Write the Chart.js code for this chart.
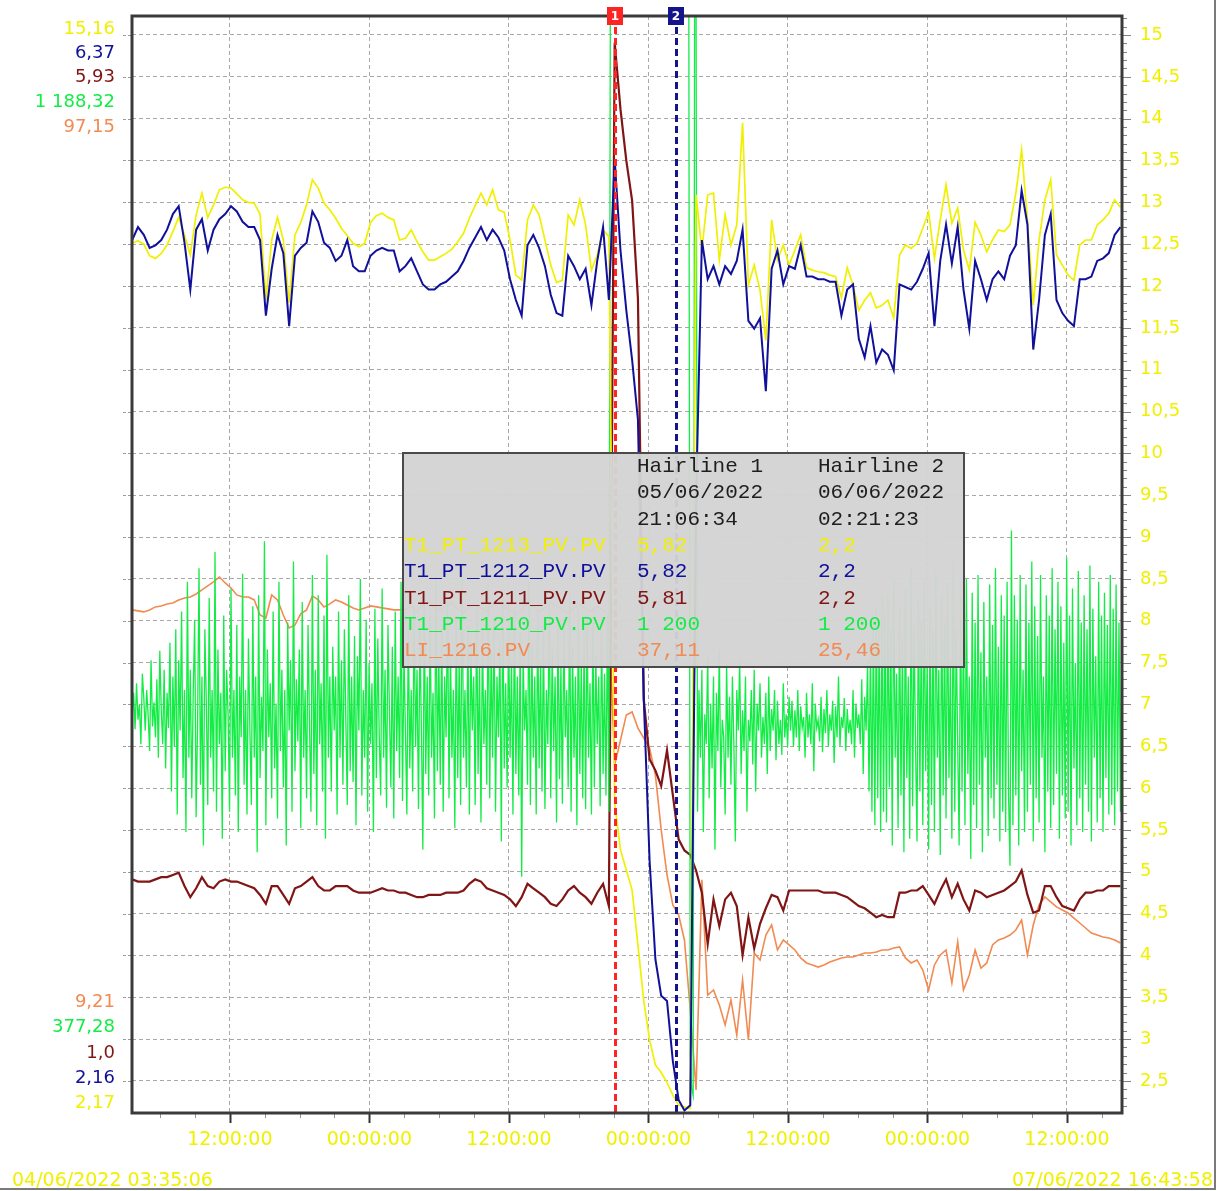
<!DOCTYPE html>
<html>
<head>
<meta charset="utf-8">
<title>Trend T1_PT</title>
<script src="https://cdn.jsdelivr.net/npm/chart.js@4.4.1/dist/chart.umd.min.js"></script>
<style>
  html, body { margin: 0; padding: 0; background: #fff; overflow: hidden; }
  #wrap { position: relative; width: 1224px; height: 1191px; }
  #frame { position: absolute; left: 0; top: 0; width: 1214px; height: 1188px;
           border-right: 2px solid #7a7a7a; border-bottom: 2px solid #7a7a7a; }
  #trend { position: absolute; left: 0; top: 0; }
  .lbl { position: absolute; font-family: 'DejaVu Sans', sans-serif; font-size: 18px; line-height: 20px; white-space: nowrap; }
  #box { position: absolute; left: 402px; top: 452px; width: 559px; height: 212px;
         background: rgba(211, 211, 211, 0.96); border: 2px solid #4a4a4a;
         font-family: 'Liberation Mono', 'Courier New', monospace; font-size: 21px; line-height: 26.3px; }
  #box div { position: absolute; white-space: pre; }
</style>
</head>
<body>
<div id="wrap">
  <div id="frame"></div>
  <canvas id="trend" width="1214" height="1189"></canvas>
  <div id="labels"></div>
  <div id="box"></div>
</div>
<script>
// tendance sur 3 jours, 5 mesures, une echelle par mesure

const seriesNames = ['T1_PT_1213_PV.PV', 'T1_PT_1212_PV.PV', 'T1_PT_1211_PV.PV', 'T1_PT_1210_PV.PV', 'LI_1216.PV'];
const seriesColors = ['#f0f000', '#10109a', '#801515', '#14ec46', '#f28a52'];
const scaleMax = [15.16, 6.37, 5.93, 1188.32, 97.15];
const scaleMin = [2.17, 2.16, 1.0, 377.28, 9.21];
const hair1Values = [5.82, 5.82, 5.81, 1200, 37.11];
const hair2Values = [2.2, 2.2, 2.2, 1200, 25.46];

// temps en heures depuis le 04/06/2022 00:00:00
const startHours = 3.585;   // 04/06/2022 03:35:06
const endHours = 88.733;    // 07/06/2022 16:43:58
const hairline1Hours = 45.109; // 05/06/2022 21:06:34
const hairline2Hours = 50.356; // 06/06/2022 02:21:23
const firstSample = 3.6;
const stepSmooth = 0.5;
const stepGreen = 0.125;

const timeTicks = [12, 24, 36, 48, 60, 72, 84];
const rightTicks = [2.5, 3, 3.5, 4, 4.5, 5, 5.5, 6, 6.5, 7, 7.5, 8, 8.5, 9, 9.5, 10, 10.5, 11, 11.5, 12, 12.5, 13, 13.5, 14, 14.5, 15];

const t1213 = [
  12.51,12.54,12.50,12.36,12.33,12.39,12.49,12.65,12.82,12.61,
  12.37,12.85,13.11,12.82,12.97,13.15,13.18,13.17,13.10,13.03,
  13.00,12.99,12.86,11.83,12.55,12.82,12.55,11.80,12.61,12.76,
  12.97,13.27,13.17,12.99,12.91,12.81,12.69,12.60,12.51,12.47,
  12.51,12.76,12.84,12.87,12.82,12.79,12.55,12.57,12.67,12.53,
  12.41,12.31,12.31,12.35,12.39,12.44,12.53,12.63,12.81,12.96,
  13.11,12.97,13.15,12.91,12.88,12.55,12.13,12.07,12.79,12.97,
  12.85,12.55,12.25,12.04,12.07,12.85,12.73,13.03,12.73,12.19,
  12.37,12.67,12.59,5.82,5.26,5.02,4.78,4.12,3.46,2.99,
  2.69,2.60,2.48,2.33,2.21,2.19,2.17,13.09,12.43,13.09,
  13.11,12.31,12.85,12.49,12.73,13.95,12.01,12.25,11.95,11.35,
  12.79,12.31,12.49,12.25,12.43,12.61,12.22,12.19,12.17,12.16,
  12.13,12.11,11.86,12.22,12.01,11.71,11.83,11.92,11.74,11.77,
  11.83,11.62,12.37,12.49,12.45,12.51,12.69,12.88,12.33,12.79,
  13.21,12.75,12.93,12.43,12.19,12.76,12.61,12.41,12.55,12.67,
  12.65,12.73,13.11,13.63,12.79,11.77,12.55,13.03,13.27,12.37,
  12.25,12.13,12.07,12.49,12.55,12.55,12.73,12.79,12.87,13.03,12.94
];

const t1212 = [
  5.51,5.56,5.53,5.48,5.49,5.51,5.55,5.61,5.64,5.50,
  5.32,5.55,5.59,5.47,5.55,5.59,5.61,5.64,5.62,5.58,
  5.56,5.56,5.51,5.22,5.40,5.53,5.46,5.18,5.45,5.48,
  5.50,5.62,5.58,5.50,5.48,5.43,5.45,5.51,5.41,5.39,
  5.39,5.45,5.47,5.48,5.47,5.47,5.39,5.41,5.44,5.39,
  5.34,5.32,5.32,5.34,5.35,5.37,5.39,5.43,5.48,5.52,
  5.56,5.51,5.55,5.52,5.47,5.36,5.28,5.22,5.49,5.53,
  5.48,5.41,5.30,5.23,5.22,5.45,5.41,5.36,5.40,5.26,
  5.43,5.56,5.28,5.82,5.47,5.24,5.05,4.82,3.75,3.13,
  2.75,2.61,2.59,2.36,2.21,2.17,2.19,4.51,5.51,5.36,
  5.41,5.34,5.41,5.38,5.43,5.55,5.20,5.17,5.21,4.93,
  5.40,5.47,5.34,5.41,5.40,5.49,5.37,5.37,5.36,5.36,
  5.35,5.35,5.22,5.32,5.34,5.13,5.06,5.18,5.04,5.09,
  5.07,5.01,5.34,5.33,5.32,5.35,5.40,5.46,5.18,5.43,
  5.57,5.42,5.56,5.32,5.17,5.43,5.36,5.28,5.36,5.39,
  5.36,5.45,5.49,5.70,5.57,5.09,5.28,5.53,5.61,5.28,
  5.23,5.20,5.18,5.36,5.36,5.37,5.43,5.44,5.46,5.53,5.56
];

const t1211 = [
  2.05,2.04,2.04,2.04,2.05,2.06,2.06,2.07,2.08,2.02,
  1.97,2.01,2.06,2.02,2.01,2.04,2.05,2.04,2.04,2.03,
  2.02,2.01,1.98,1.94,2.02,2.02,1.98,1.94,2.01,2.02,
  2.04,2.06,2.02,2.00,2.00,2.02,2.02,2.02,2.00,1.99,
  1.99,1.99,2.00,2.01,2.00,2.00,1.99,1.99,1.98,1.97,
  1.97,1.98,1.98,1.98,1.99,1.99,1.99,2.00,2.03,2.05,
  2.04,2.01,2.00,1.99,1.98,1.96,1.93,1.97,2.03,2.01,
  1.99,1.97,1.94,1.93,1.96,2.00,2.02,1.99,1.97,1.94,
  1.99,2.03,1.93,5.81,5.51,5.28,5.10,4.66,2.86,2.59,
  2.54,2.47,2.63,2.43,2.23,2.18,2.16,2.09,1.99,1.76,
  1.96,1.84,1.96,1.99,1.93,1.71,1.88,1.74,1.85,1.92,
  1.98,1.97,1.91,2.00,2.00,2.00,2.00,2.00,2.00,1.99,
  1.99,1.99,1.98,1.97,1.95,1.93,1.92,1.90,1.88,1.89,
  1.88,1.88,1.99,1.99,2.00,2.00,2.02,1.98,1.94,2.00,
  2.05,1.97,2.03,1.96,1.91,2.00,1.99,1.97,1.98,1.99,
  2.00,2.02,2.04,2.09,1.98,1.90,1.91,2.02,2.02,1.97,
  1.93,1.92,1.91,1.96,1.99,1.99,2.00,2.00,2.02,2.02,2.02
];

const li1216 = [
  49.54,49.46,49.38,49.54,49.78,49.86,50.02,50.10,50.34,50.50,
  50.58,50.82,51.14,51.46,51.78,52.18,51.70,51.30,50.74,50.58,
  50.58,50.34,49.13,48.89,50.74,50.34,49.13,48.09,48.33,49.22,
  49.54,50.66,50.34,49.78,50.02,50.34,50.18,49.94,49.70,49.54,
  49.70,49.86,49.78,49.70,49.62,49.54,49.54,
  49.6,49.8,49.4,49.9,50.2,49.7,49.5,49.9,50.1,49.6,
  49.3,49.8,50.0,49.7,49.4,49.9,50.3,49.8,49.5,49.2,
  49.6,50.0,49.8,49.4,49.7,50.1,49.9,49.5,49.3,49.7,
  50.0,49.6,49.4,49.8,49.5,49.2,
  37.11,39.11,41.12,41.36,40.07,39.27,38.47,
  36.31,31.90,28.29,25.89,25.08,23.08,17.47,11.05,27.90,18.67,
  19.07,17.87,16.27,18.27,15.46,19.87,15.06,22.04,21.48,23.48,
  24.28,22.28,23.08,22.68,22.28,21.64,21.24,21.08,20.91,21.08,
  21.32,21.48,21.64,21.72,21.72,21.88,22.04,22.04,22.12,22.28,
  22.28,22.44,22.52,21.64,21.24,21.48,20.67,19.07,21.08,21.88,
  22.28,19.63,22.92,19.07,20.27,22.28,20.83,21.24,22.68,23.08,
  23.24,23.48,23.88,24.68,21.88,24.28,25.89,26.53,26.13,25.73,
  25.48,25.24,24.84,24.44,24.04,23.64,23.48,23.32,23.24,23.08,22.84
];

const t1210 = [
  // 04/06 matin, bande etroite
  672,688,661,695,668,679,650,702,684,660,
  690,671,645,712,663,681,655,698,640,719,
  676,650,705,632,688,662,725,615,700,648,
  735,
  // 04/06 jour
  598,712,660,748,625,690,585,770,640,705,
  610,688,742,596,665,780,620,700,575,735,
  682,605,758,640,690,615,792,600,720,650,
  688,580,745,630,705,672,600,765,640,690,
  612,738,585,700,655,776,620,690,598,728,
  660,605,752,640,700,570,760,625,685,645,
  800,590,720,655,695,610,748,632,680,595,
  770,645,705,618,690,575,740,660,712,600,
  785,630,698,652,720,588,755,640,690,610,
  738,665,600,775,628,705,590,760,650,695,
  615,745,580,790,640,700,
  // 05/06
  615,722,660,700,598,748,640,712,620,735,
  668,605,760,630,700,622,730,590,715,660,
  772,612,690,640,742,600,710,650,695,585,
  750,625,728,655,612,765,640,705,603,738,
  675,618,722,595,748,645,700,625,770,608,
  718,660,598,740,632,690,615,752,648,705,
  602,735,660,572,755,628,700,612,745,640,
  688,595,775,630,715,620,738,600,700,655,
  758,610,722,640,690,588,745,625,712,605,
  782,640,690,618,738,598,725,660,700,605,
  752,628,708,592,735,650,690,620,768,610,
  720,640,745,600,700,655,728,578,758,632,
  695,618,740,640,710,598,750,628,700,612,
  732,552,718,660,690,620,770,605,725,640,
  700,598,748,632,712,615,738,602,690,650,
  755,610,722,645,700,592,745,624,708,606,
  735,655,690,618,762,600,722,640,700,590,
  750,628,710,610,735,602,745,640,695,598,
  740,618,715,650,700,604,735,628,702,612,
  745,600,
  // saturation entre les hairlines
  1200,1200,1200,1200,1200,1200,1200,1200,1200,1200,
  1200,1200,1200,1200,1200,1200,1200,1200,1200,1200,
  1200,1200,1200,1200,1200,1200,1200,1200,1200,1200,
  1200,1200,1200,1200,1200,1200,1200,1200,1200,1200,
  1200,1200,1200,1200,1200,1200,1200,1200,1200,1200,
  1200,1200,1200,1200,1200,
  420,395,390,1200,1200,
  // 06/06 reprise
  600,690,640,705,585,672,650,715,610,680,
  632,700,572,688,645,720,618,668,655,598,
  710,640,685,620,700,650,578,690,660,712,
  628,675,645,700,600,668,652,690,635,705,
  615,680,660,695,640,670,650,688,628,700,
  645,676,660,690,638,682,650,668,642,695,
  655,672,648,685,
  // 06/06 calme
  660,682,648,675,655,690,645,678,662,670,
  640,688,655,672,650,695,630,680,662,668,
  652,685,644,676,658,690,648,672,660,682,
  636,678,655,700,648,670,662,684,645,676,
  658,668,650,690,640,680,662,672,650,698,
  628,685,660,710,615,725,600,740,590,752,
  610,735,585,762,600,748,
  // 06/06 soir
  592,760,618,735,575,772,640,702,588,750,
  612,728,570,765,625,700,580,780,604,738,
  650,578,758,615,742,590,770,630,710,572,
  752,605,735,585,778,640,705,568,760,612,
  740,595,768,625,712,580,785,600,735,650,
  575,758,615,745,590,772,628,700,565,762,
  605,740,588,775,620,718,570,755,640,700,
  582,768,610,738,595,780,620,722,578,760,
  600,745,585,770,612,
  // 07/06
  560,808,590,760,612,742,575,775,630,705,
  585,768,600,740,620,785,578,752,610,730,
  592,775,640,700,570,760,615,745,588,780,
  605,735,628,770,580,752,612,725,595,788,
  600,745,575,765,632,710,590,778,610,740,
  585,760,620,735,600,782,578,750,640,715,
  592,770,610,745,585,762,625,738,598,775,
  605,750,590,768,615,740,600,758
];

function points(values, step) {
  return values.map((v, i) => ({ x: firstSample + i * step, y: v }));
}

function frNumber(n) {
  let s = (n % 1 === 0 && n < 100) ? n.toFixed(1) : String(n);
  const parts = s.split('.');
  parts[0] = parts[0].replace(/\B(?=(\d{3})+(?!\d))/g, ' ');
  return parts.join(',');
}

function pad(n) { return String(n).padStart(2, '0'); }

const hairlines = [
  { hours: hairline1Hours, color: '#ff2424', label: '1' },
  { hours: hairline2Hours, color: '#14148c', label: '2' }
];

const decor = {
  id: 'decor',
  afterDatasetsDraw(chart) {
    const { ctx, chartArea: a, scales } = chart;
    const xs = scales.x, ys = scales.y;
    ctx.save();

    // hairlines
    hairlines.forEach(h => {
      const px = Math.round(xs.getPixelForValue(h.hours)) + 0.5;
      ctx.strokeStyle = h.color;
      ctx.lineWidth = 3;
      ctx.setLineDash([7, 4]);
      ctx.beginPath();
      ctx.moveTo(px, a.top);
      ctx.lineTo(px, a.bottom);
      ctx.stroke();
    });
    ctx.setLineDash([]);

    // petits traits de gauche
    ctx.strokeStyle = '#9a9a9a';
    ctx.lineWidth = 1;
    ctx.setLineDash([3, 2]);
    rightTicks.forEach(v => {
      const py = Math.round(ys.getPixelForValue(v)) + 0.5;
      ctx.beginPath();
      ctx.moveTo(a.left - 9, py);
      ctx.lineTo(a.left, py);
      ctx.stroke();
    });
    ctx.setLineDash([]);

    // graduations droite
    ctx.strokeStyle = '#808080';
    for (let k = 22; k <= 152; k++) {
      const py = Math.round(ys.getPixelForValue(k / 10)) + 0.5;
      const major = k % 5 === 0;
      ctx.lineWidth = 1;
      ctx.beginPath();
      ctx.moveTo(a.right, py);
      ctx.lineTo(a.right + (major ? 9 : 5), py);
      ctx.stroke();
    }

    // graduations temps
    for (let hh = 6; hh < endHours; hh += 3) {
      const px = Math.round(xs.getPixelForValue(hh)) + 0.5;
      const major = hh % 12 === 0;
      ctx.strokeStyle = major ? '#333' : '#909090';
      ctx.lineWidth = major ? 2 : 1;
      ctx.beginPath();
      ctx.moveTo(px, a.bottom);
      ctx.lineTo(px, a.bottom + (major ? 10 : 5));
      ctx.stroke();
    }

    // cadre
    ctx.strokeStyle = '#3a3a3a';
    ctx.lineWidth = 3;
    ctx.strokeRect(a.left, a.top, a.right - a.left, a.bottom - a.top);

    // reperes des hairlines
    hairlines.forEach(h => {
      const px = Math.round(xs.getPixelForValue(h.hours));
      ctx.fillStyle = h.color;
      ctx.fillRect(px - 8, a.top - 9, 16, 18);
      ctx.fillStyle = '#fff';
      ctx.font = 'bold 12px "DejaVu Sans"';
      ctx.textAlign = 'center';
      ctx.textBaseline = 'middle';
      ctx.fillText(h.label, px, a.top + 0.5);
    });
    ctx.restore();
  }
};

Chart.defaults.font.family = '"DejaVu Sans", sans-serif';

const hiddenAxis = (i) => ({ display: false, min: scaleMin[i], max: scaleMax[i] });

new Chart(document.getElementById('trend'), {
  type: 'line',
  data: {
    datasets: [
      { label: seriesNames[0], data: points(t1213, stepSmooth), yAxisID: 'y', borderColor: seriesColors[0], borderWidth: 1.7, order: 1 },
      { label: seriesNames[1], data: points(t1212, stepSmooth), yAxisID: 'yBlue', borderColor: seriesColors[1], borderWidth: 2, order: 0 },
      { label: seriesNames[2], data: points(t1211, stepSmooth), yAxisID: 'yRed', borderColor: seriesColors[2], borderWidth: 2.2, order: 3 },
      { label: seriesNames[3], data: points(t1210, stepGreen), yAxisID: 'yGreen', borderColor: seriesColors[3], borderWidth: 1.3, order: 2 },
      { label: seriesNames[4], data: points(li1216, stepSmooth), yAxisID: 'yOrange', borderColor: seriesColors[4], borderWidth: 1.6, order: 4 }
    ]
  },
  options: {
    responsive: false,
    animation: false,
    layout: { padding: { left: 132, top: 16, right: 0, bottom: 0 } },
    elements: { point: { radius: 0 }, line: { tension: 0 } },
    plugins: { legend: { display: false }, tooltip: { enabled: false } },
    scales: {
      x: {
        type: 'linear',
        min: startHours,
        max: endHours,
        afterBuildTicks: s => { s.ticks = timeTicks.map(v => ({ value: v })); },
        afterFit: s => { s.height = 76; s.paddingLeft = 0; s.paddingRight = 0; },
        grid: { color: '#a8a8a8', lineWidth: 1, drawTicks: false },
        border: { display: false, dash: [4, 3] },
        ticks: {
          color: '#f0f000',
          font: { size: 19 },
          padding: 16,
          maxRotation: 0,
          callback: v => pad(v % 24) + ':00:00'
        }
      },
      y: {
        position: 'right',
        min: 2.116,
        max: 15.227,
        afterBuildTicks: s => { s.ticks = rightTicks.map(v => ({ value: v })); },
        afterFit: s => { s.width = 92; s.paddingTop = 0; s.paddingBottom = 0; },
        grid: { color: '#a8a8a8', lineWidth: 1, drawTicks: false },
        border: { display: false, dash: [4, 3] },
        ticks: {
          color: '#f0f000',
          font: { size: 18 },
          padding: 18,
          callback: v => String(v).replace('.', ',')
        }
      },
      yBlue: hiddenAxis(1),
      yRed: hiddenAxis(2),
      yGreen: hiddenAxis(3),
      yOrange: hiddenAxis(4)
    }
  },
  plugins: [decor]
});

// libelles d'echelle a gauche
const labels = document.getElementById('labels');
const topCenters = [28, 52, 76, 101, 126];
const bottomCenters = [1102, 1077, 1052, 1026, 1001];
function addLabel(text, color, css) {
  const d = document.createElement('div');
  d.className = 'lbl';
  d.textContent = text;
  d.style.color = color;
  Object.assign(d.style, css);
  labels.appendChild(d);
}
seriesNames.forEach((n, i) => {
  addLabel(frNumber(scaleMax[i]), seriesColors[i], { right: (1224 - 115) + 'px', top: (topCenters[i] - 10) + 'px' });
  addLabel(frNumber(scaleMin[i]), seriesColors[i], { right: (1224 - 115) + 'px', top: (bottomCenters[i] - 10) + 'px' });
});
addLabel('04/06/2022 03:35:06', '#f0f000', { left: '12px', top: '1169px', fontSize: '19px' });
addLabel('07/06/2022 16:43:58', '#f0f000', { right: '11px', top: '1169px', fontSize: '19px' });

// encadre des hairlines
const box = document.getElementById('box');
function addCell(text, color, left, row) {
  const d = document.createElement('div');
  d.textContent = text;
  d.style.color = color;
  d.style.left = left + 'px';
  d.style.top = (row * 26.3) + 'px';
  box.appendChild(d);
}
const header1 = ['Hairline 1', '05/06/2022', '21:06:34'];
const header2 = ['Hairline 2', '06/06/2022', '02:21:23'];
header1.forEach((t, r) => addCell(t, '#1e1e1e', 233, r));
header2.forEach((t, r) => addCell(t, '#1e1e1e', 414, r));
seriesNames.forEach((n, i) => {
  addCell(n, seriesColors[i], 0, i + 3);
  addCell(frNumber(hair1Values[i]).replace(',0', ''), seriesColors[i], 233, i + 3);
  addCell(frNumber(hair2Values[i]).replace(',0', ''), seriesColors[i], 414, i + 3);
});
</script>
</body>
</html>
